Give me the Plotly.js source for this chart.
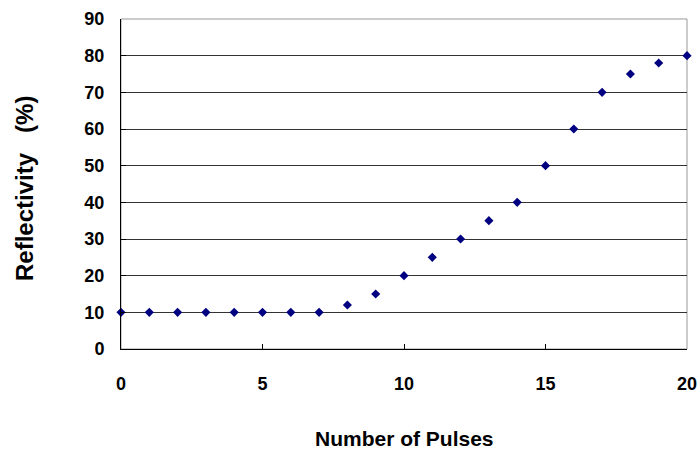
<!DOCTYPE html>
<html>
<head>
<meta charset="utf-8">
<script src="https://cdn.plot.ly/plotly-3.0.1.min.js"></script>
<style>html,body{margin:0;padding:0;background:#fff;}#chart{width:699px;height:449px;}</style>
</head>
<body>
<div id="chart"></div>
<script>
const pulses = [0,1,2,3,4,5,6,7,8,9,10,11,12,13,14,15,16,17,18,19,20];
const reflectivity = [10,10,10,10,10,10,10,10,12,15,20,25,30,35,40,50,60,70,75,78,80];
const xTickVals = [0,5,10,15,20];
const yTickVals = [0,10,20,30,40,50,60,70,80,90];
const xTitle = 'Number of Pulses';
const yTitle = 'Reflectivity&nbsp;&nbsp;&nbsp;(%)';

const fontFam = '"Liberation Sans", Arial, sans-serif';
const trace = {
  x: pulses, y: reflectivity, type: 'scatter', mode: 'markers',
  marker: {symbol: 'diamond', size: 7, color: '#000080'},
  cliponaxis: false, hoverinfo: 'none'
};
const layout = {
  width: 699, height: 449,
  margin: {l: 121, r: 12, t: 19, b: 100},
  paper_bgcolor: '#fff', plot_bgcolor: '#fff',
  showlegend: false,
  font: {family: fontFam, size: 18, color: '#000'},
  xaxis: {
    range: [0, 20], tickvals: xTickVals, ticktext: xTickVals.map(String),
    ticks: 'inside', ticklen: 5, tickcolor: '#000', tickwidth: 1,
    showgrid: false, zeroline: false,
    showline: true, linecolor: '#000', linewidth: 1,
    tickfont: {family: fontFam, size: 18, color: '#000', weight: 'bold'},
    ticklabelstandoff: 18
  },
  yaxis: {
    range: [0, 90], tickvals: yTickVals, ticktext: yTickVals.map(String),
    ticks: 'inside', ticklen: 5, tickcolor: '#000', tickwidth: 1,
    showgrid: true, gridcolor: '#333', gridwidth: 1,
    zeroline: false,
    showline: true, linecolor: '#000', linewidth: 1,
    tickfont: {family: fontFam, size: 18, color: '#000', weight: 'bold'},
    ticklabelstandoff: 12
  },
  annotations: [
    {text: '<b>' + xTitle + '</b>', xref: 'paper', yref: 'paper', x: 0.5, y: 0,
     yshift: -89, xanchor: 'center', yanchor: 'middle', showarrow: false,
     font: {family: fontFam, size: 21, color: '#000'}},
    {text: '<b>' + yTitle + '</b>', xref: 'paper', yref: 'paper', x: 0, y: 0.5,
     xshift: -97, yshift: -5, xanchor: 'center', yanchor: 'middle', textangle: -90, showarrow: false,
     font: {family: fontFam, size: 24, color: '#000'}}
  ],
  shapes: [{
    type: 'rect', xref: 'paper', yref: 'paper', x0: 0, x1: 1, y0: 0, y1: 1,
    line: {color: '#999', width: 1}, layer: 'below'
  }]
};
Plotly.newPlot('chart', [trace], layout, {staticPlot: true, displayModeBar: false});
</script>
</body>
</html>
